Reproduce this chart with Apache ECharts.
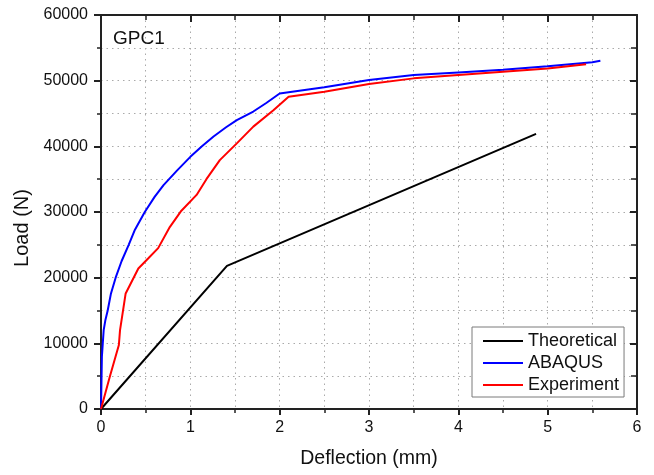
<!DOCTYPE html>
<html>
<head>
<meta charset="utf-8">
<script src="https://cdn.jsdelivr.net/npm/echarts@6/dist/echarts.min.js"></script>
<style>
html,body{margin:0;padding:0;background:#fff;}
#chart{width:654px;height:475px;}
</style>
</head>
<body>
<div id="chart"></div>
<script>
const seriesNames = ['Theoretical', 'ABAQUS', 'Experiment'];
const theoretical = [[0,0],[1.41,21800],[4.87,41900]];
const abaqus = [[0,0],[0.005,4000],[0.01,8000],[0.02,10000],[0.03,12000],[0.05,13600],[0.075,15000],[0.11,17500],[0.164,20000],[0.23,22500],[0.31,25000],[0.38,27300],[0.49,30000],[0.6,32300],[0.70,34100],[0.85,36300],[1.0,38400],[1.13,40000],[1.26,41500],[1.4,42900],[1.52,44000],[1.705,45300],[1.85,46600],[2.0,48050],[2.5,49000],[3.0,50100],[3.5,50850],[4.0,51250],[4.5,51650],[5.0,52200],[5.5,52800],[5.59,53040]];
const experiment = [[0,0],[0.1,5000],[0.2,9750],[0.213,12000],[0.276,17600],[0.418,21400],[0.53,22950],[0.64,24500],[0.77,27700],[0.9,30200],[1.07,32600],[1.18,35000],[1.33,37900],[1.52,40450],[1.705,43000],[1.93,45500],[2.1,47550],[2.5,48300],[3.0,49500],[3.5,50350],[4.0,50850],[4.5,51350],[5.0,51850],[5.43,52500]];
const xTicks = {min:0, max:6, interval:1};
const yTicks = {min:0, max:60000, interval:10000};

const chart = echarts.init(document.getElementById('chart'), null, {renderer:'canvas'});
const fontFam = 'Liberation Sans, Arial, sans-serif';
const axisCol = '#222';
const gridStyle = {color:'#aaaaaa', width:1, type:[1.5,4]};

function baseAxis(extra){
  return Object.assign({
    type:'value',
    axisLine:{show:true, onZero:false, lineStyle:{color:axisCol, width:2}},
    splitLine:{show:false},
    minorSplitLine:{show:false},
  }, extra);
}

const option = {
  animation:false,
  backgroundColor:'#fff',
  title:{text:'GPC1', left:108, top:24, textStyle:{fontFamily:fontFam, fontSize:19, fontWeight:'normal', color:'#111'}},
  grid:{left:101, right:17, top:15, bottom:66, containLabel:false},
  legend:{
    orient:'vertical', left:472, top:327,
    data:seriesNames,
    icon:'rect', itemWidth:40, itemHeight:2, itemGap:4,
    padding:[5,5,3,11],
    borderColor:'#7a7a7a', borderWidth:1, backgroundColor:'#fff',
    textStyle:{fontFamily:fontFam, fontSize:18, color:'#111'}
  },
  xAxis:[
    baseAxis({min:xTicks.min, max:xTicks.max, interval:xTicks.interval, position:'bottom',
      name:'Deflection (mm)', nameLocation:'middle', nameGap:40,
      nameTextStyle:{fontFamily:fontFam, fontSize:19.5, color:'#111'},
      axisTick:{show:true, inside:false, length:6, lineStyle:{color:axisCol, width:2}},
      minorTick:{show:true, splitNumber:2, length:4, lineStyle:{color:axisCol, width:1.5}},
      axisLabel:{fontFamily:fontFam, fontSize:16, color:'#111', margin:11},
      splitLine:{show:true, lineStyle:gridStyle},
      minorSplitLine:{show:true, lineStyle:gridStyle}
    }),
    baseAxis({min:xTicks.min, max:xTicks.max, interval:xTicks.interval, position:'top',
      axisTick:{show:true, inside:true, length:7, lineStyle:{color:axisCol, width:2}},
      minorTick:{show:true, splitNumber:2, length:5, lineStyle:{color:axisCol, width:1.5}},
      axisLabel:{show:false}
    })
  ],
  yAxis:[
    baseAxis({min:yTicks.min, max:yTicks.max, interval:yTicks.interval, position:'left',
      name:'Load (N)', nameLocation:'middle', nameGap:66,
      nameTextStyle:{fontFamily:fontFam, fontSize:20, color:'#111', padding:[0,32,0,0]},
      axisTick:{show:true, inside:false, length:7, lineStyle:{color:axisCol, width:2}},
      minorTick:{show:true, splitNumber:2, length:4, lineStyle:{color:axisCol, width:1.5}},
      axisLabel:{fontFamily:fontFam, fontSize:16, color:'#111', margin:13, formatter:function(v){return String(v);}},
      splitLine:{show:true, lineStyle:gridStyle},
      minorSplitLine:{show:true, lineStyle:gridStyle}
    }),
    baseAxis({min:yTicks.min, max:yTicks.max, interval:yTicks.interval, position:'right',
      axisTick:{show:true, inside:true, length:7, lineStyle:{color:axisCol, width:2}},
      minorTick:{show:true, splitNumber:2, length:6, lineStyle:{color:axisCol, width:1.5}},
      axisLabel:{show:false}
    })
  ],
  series:[
    {name:seriesNames[0], type:'line', data:theoretical, showSymbol:false, symbol:'none', lineStyle:{color:'#000', width:2}, itemStyle:{color:'#000'}, z:3},
    {name:seriesNames[1], type:'line', data:abaqus, showSymbol:false, symbol:'none', lineStyle:{color:'#0000ff', width:2}, itemStyle:{color:'#0000ff'}, z:4},
    {name:seriesNames[2], type:'line', data:experiment, showSymbol:false, symbol:'none', lineStyle:{color:'#ff0000', width:2}, itemStyle:{color:'#ff0000'}, z:5}
  ]
};
chart.setOption(option);
</script>
</body>
</html>
